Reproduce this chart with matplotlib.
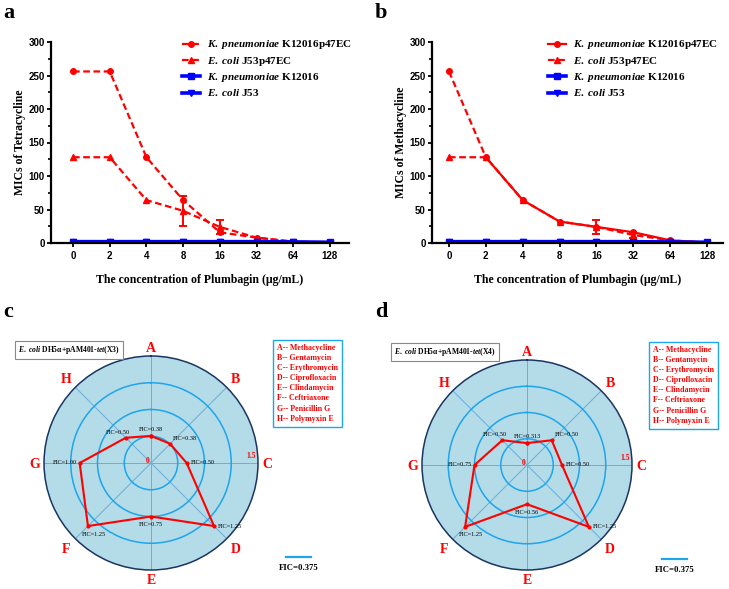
import numpy as np
import matplotlib
matplotlib.use("Agg")
import matplotlib.pyplot as plt
from matplotlib.ticker import MultipleLocator

plt.rcParams['font.family'] = ['Liberation Serif', 'DejaVu Serif']
plt.rcParams['font.weight'] = 'bold'
plt.rcParams['mathtext.fontset'] = 'custom'
plt.rcParams['mathtext.rm'] = 'Liberation Serif:bold'
plt.rcParams['mathtext.it'] = 'Liberation Serif:italic:bold'
plt.rcParams['mathtext.bf'] = 'Liberation Serif:bold'

# x categories (plumbagin, ug/mL)
conc = ['0', '2', '4', '8', '16', '32', '64', '128']

# panel a: MICs of tetracycline
kp47_a = [256, 256, 128, 64, 16, 8, 2, 0.5]
ec47_a = [128, 128, 64, 48, 24, 8, 2, 0.5]
ec47_a_err = [0, 0, 0, 22, 11, 0, 0, 0]
kp_a = [2, 2, 2, 2, 2, 2, 1.5, 1]
ec_a = [1, 1, 1, 1, 1, 1, 1, 0.5]

# panel b: MICs of methacycline
kp47_b = [256, 128, 64, 32, 24, 16, 4, 0.5]
kp47_b_err = [0, 0, 0, 0, 11, 0, 0, 0]
ec47_b = [128, 128, 64, 32, 24, 12, 4, 0.5]
ec47_b_err = [0, 0, 0, 0, 0, 4, 0, 0]
kp_b = [2, 2, 2, 2, 2, 2, 1.5, 1]
ec_b = [1, 1, 1, 1, 1, 1, 1, 0.5]

series_names = [r'$\it{K.\ pneumoniae}$ K12016p47EC', r'$\it{E.\ coli}$ J53p47EC',
                r'$\it{K.\ pneumoniae}$ K12016', r'$\it{E.\ coli}$ J53']

# panels c/d: FIC index radar
drugs = ['A', 'B', 'C', 'D', 'E', 'F', 'G', 'H']
drug_names = ['Methacycline', 'Gentamycin', 'Erythromycin', 'Ciprofloxacin',
              'Clindamycin', 'Ceftriaxone', 'Penicillin G', 'Polymyxin E']
fic_x3 = [0.38, 0.38, 0.50, 1.25, 0.75, 1.25, 1.00, 0.50]
fic_x3_lbl = ['0.38', '0.38', '0.50', '1.25', '0.75', '1.25', '1.00', '0.50']
fic_x4 = [0.313, 0.50, 0.50, 1.25, 0.56, 1.25, 0.75, 0.50]
fic_x4_lbl = ['0.313', '0.50', '0.50', '1.25', '0.56', '1.25', '0.75', '0.50']

RED = '#ff0000'
BLUE = '#0000ff'
W, H = 729, 589

fig = plt.figure(figsize=(W / 100, H / 100), dpi=100)


def px_axes(l, t, r, b, **kw):
    return fig.add_axes([l / W, 1 - b / H, (r - l) / W, (b - t) / H], **kw)


def line_panel(ax, kp47, ec47, kp, ec, err_kp, err_ec, ylabel, solid_kp, xlim):
    x = np.arange(len(conc))
    dash = (0, (3, 1.6))
    kp47 = np.array(kp47, float)
    ec47 = np.array(ec47, float)
    if solid_kp:
        ax.plot(x[:2], kp47[:2], color=RED, lw=1.6, ls=dash)
        ax.plot(x[1:], kp47[1:], color=RED, lw=1.6, marker='o', ms=4)
        ax.plot(x[:1], kp47[:1], color=RED, marker='o', ms=4)
        h1, = ax.plot([], [], color=RED, lw=1.6, marker='o', ms=4)
    else:
        h1, = ax.plot(x, kp47, color=RED, lw=1.6, ls=dash, marker='o', ms=4)
    h2, = ax.plot(x, ec47, color=RED, lw=1.6, ls=dash, marker='^', ms=4)
    h3, = ax.plot(x, kp, color=BLUE, lw=2.6, marker='s', ms=4)
    h4, = ax.plot(x, ec, color=BLUE, lw=2.6, marker='v', ms=4)
    for vals, err in ((kp47, err_kp), (ec47, err_ec)):
        err = np.array(err, float)
        m = err > 0
        if m.any():
            ax.errorbar(x[m], vals[m], yerr=err[m], fmt='none', ecolor=RED,
                        elinewidth=1.4, capsize=3, capthick=1.4)
    ax.set_xlim(*xlim)
    ax.set_ylim(0, 300)
    ax.set_xticks(x)
    ax.set_xticklabels(conc)
    ax.yaxis.set_major_locator(MultipleLocator(50))
    ax.yaxis.set_minor_locator(MultipleLocator(25))
    for lab in ax.get_xticklabels() + ax.get_yticklabels():
        lab.set_fontfamily('Liberation Sans')
        lab.set_fontweight('bold')
        lab.set_fontsize(7)
    ax.tick_params(width=1.3, length=3, pad=1.5)
    ax.tick_params(axis='x', pad=3)
    ax.tick_params(which='minor', width=1.2, length=2)
    ax.spines['top'].set_visible(False)
    ax.spines['right'].set_visible(False)
    ax.spines['left'].set_linewidth(1.6)
    ax.spines['bottom'].set_linewidth(1.6)
    ax.set_ylabel(ylabel, fontsize=8.5, fontweight='bold', labelpad=1.5)
    ax.set_xlabel('The concentration of Plumbagin (\u03bcg/mL)', fontsize=8.5,
                  fontweight='bold', labelpad=9)
    return [h1, h2, h3, h4]


leg_kw = dict(loc='upper left', frameon=False, fontsize=8.0, handlelength=1.6,
              handletextpad=0.6, labelspacing=0.3, borderaxespad=0)

ax_a = px_axes(51, 42, 349, 243)
hs = line_panel(ax_a, kp47_a, ec47_a, kp_a, ec_a, [0] * 8, ec47_a_err,
                'MICs of Tetracycline', False, (-0.6, 7.52))
ax_a.legend(hs, series_names, bbox_to_anchor=(0.425, 1.04), **leg_kw)

ax_b = px_axes(432, 42, 723, 243)
hs = line_panel(ax_b, kp47_b, ec47_b, kp_b, ec_b, kp47_b_err, ec47_b_err,
                'MICs of Methacycline', True, (-0.46, 7.43))
ax_b.legend(hs, series_names, bbox_to_anchor=(0.385, 1.04), **leg_kw)

# FIC label offsets (points) and alignment per spoke
lbl_pos = {
    'A': ((0, 3), 'center', 'bottom'),
    'B': ((2, 2), 'left', 'bottom'),
    'C': ((3, 0), 'left', 'center'),
    'D': ((3, 0), 'left', 'center'),
    'E': ((0, -4), 'center', 'top'),
    'F': ((4, -4), 'center', 'top'),
    'G': ((-2, 0), 'right', 'center'),
    'H': ((3, 2), 'right', 'bottom'),
}


def radar_panel(cx, cy, rad, vals, lbls, strain):
    ax = px_axes(cx - rad, cy - rad, cx + rad, cy + rad, projection='polar')
    ax.set_theta_zero_location('N')
    ax.set_theta_direction(-1)
    ax.set_facecolor('#b3dbe8')
    ax.set_ylim(0, 1.5)
    theta = np.deg2rad(np.arange(len(drugs)) * 45.0)
    ax.set_xticks(theta)
    ax.set_xticklabels([])
    ax.set_yticks([0.375, 0.75, 1.125])
    ax.set_yticklabels([])
    ax.xaxis.grid(True, color='#6aaedc', lw=0.7)
    ax.yaxis.grid(True, color='#1ea5ea', lw=1.1)
    ax.spines['polar'].set_edgecolor('#1c3560')
    ax.spines['polar'].set_linewidth(1.1)
    t = np.append(theta, theta[0])
    v = np.append(vals, vals[0])
    ax.plot(t, v, color=RED, lw=1.5, marker='o', ms=2, clip_on=False)
    for th, val, lab, d in zip(theta, vals, lbls, drugs):
        off, ha, va = lbl_pos[d]
        ax.annotate('FIC=' + lab, (th, val), xytext=off, textcoords='offset points',
                    ha=ha, va=va, fontsize=4.5, color='black', fontweight='normal')
        rr = 1.63 if d in 'ACEG' else 1.68
        ax.text(th, rr, d, ha='center', va='center_baseline', color=RED,
                fontsize=10, fontweight='bold')
    ax.text(np.deg2rad(-60), 0.05, '0', color=RED, fontsize=5.5, ha='center',
            va='center', fontweight='bold')
    ax.text(np.deg2rad(86), 1.4, '1.5', color=RED, fontsize=5.5, ha='center',
            va='center', fontweight='bold')
    # strain title box
    fig.text((cx - 133) / W, 1 - (cy - 113) / H,
             r'$\it{E.\ coli}$ DH5' + '\u03b1' + r'+pAM401-$\it{tet}$(' + strain + ')',
             fontsize=5.5, ha='left', va='center', fontweight='bold',
             bbox=dict(boxstyle='square,pad=0.4', fc='white', ec='#888888', lw=0.8))
    # drug key box
    key = '\n'.join(f'{d}-- {n}' for d, n in zip(drugs, drug_names))
    fig.text((cx + 126) / W, 1 - (cy - 119) / H, key, fontsize=5.7, color=RED,
             ha='left', va='top', fontweight='bold', linespacing=1.35,
             bbox=dict(boxstyle='square,pad=0.55', fc='white', ec='#1ea5ea', lw=1.0))
    # FIC = 0.375 scale key
    fig.add_artist(plt.Line2D([(cx + 135) / W, (cx + 160) / W],
                              [1 - (cy + 94) / H] * 2, color='#1ea5ea', lw=1.6))
    fig.text((cx + 148) / W, 1 - (cy + 105) / H, 'FIC=0.375', fontsize=6.3,
             ha='center', va='center', fontweight='bold')
    return ax


radar_panel(151, 463, 107, fic_x3, fic_x3_lbl, 'X3')
radar_panel(527, 465, 105, fic_x4, fic_x4_lbl, 'X4')

for lab, x, y in (('a', 3, 3), ('b', 375, 3), ('c', 3, 302), ('d', 375, 302)):
    fig.text(x / W, 1 - y / H, lab, fontsize=16, fontweight='bold', ha='left', va='top')

fig.savefig('out.png', dpi=100)
